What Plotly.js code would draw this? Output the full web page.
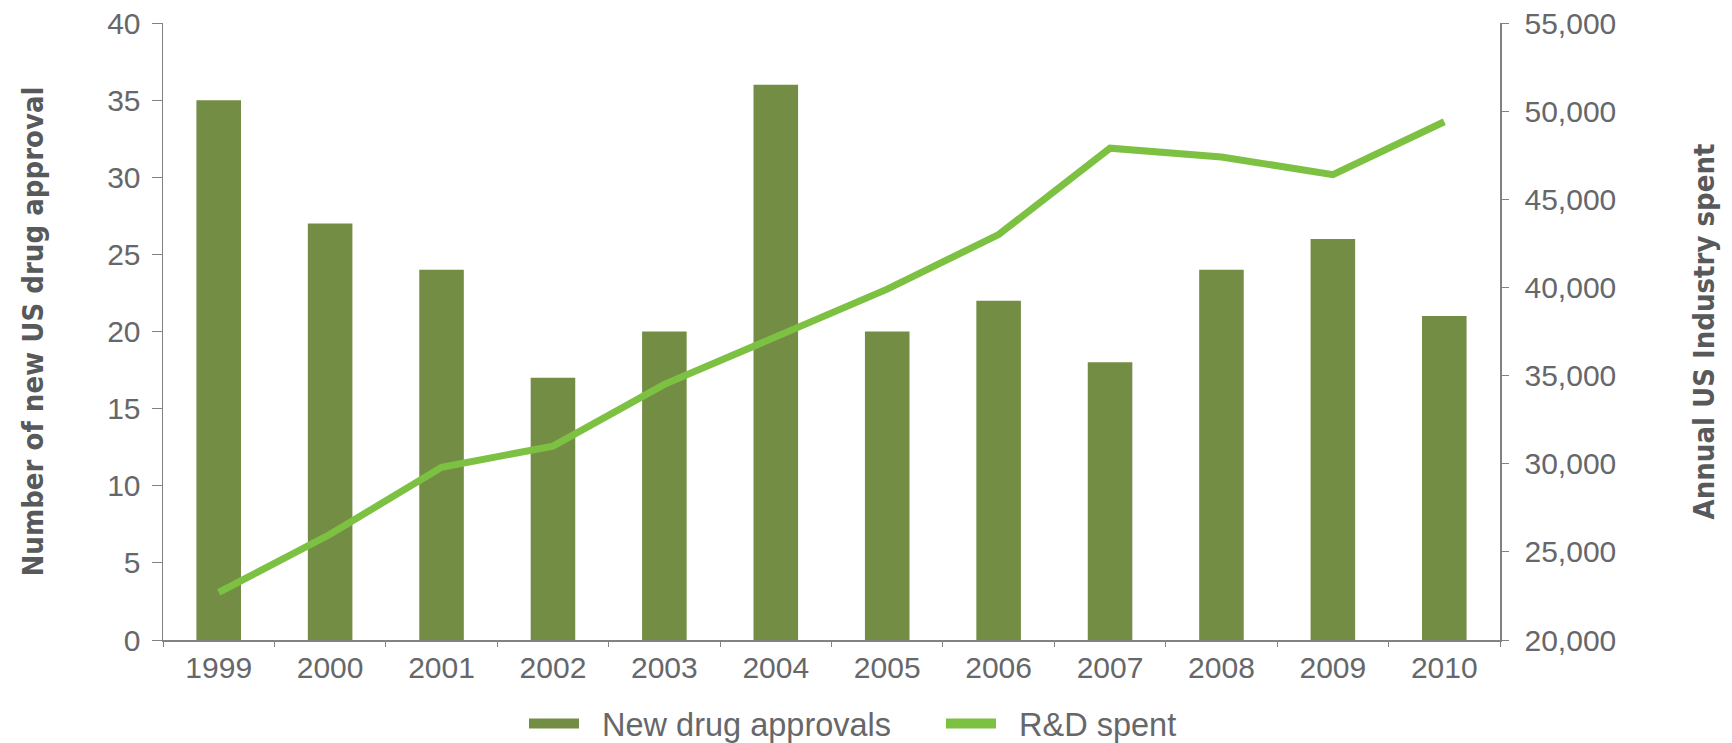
<!DOCTYPE html>
<html>
<head>
<meta charset="utf-8">
<script src="https://cdn.plot.ly/plotly-3.0.1.min.js"></script>
<style>html,body{margin:0;padding:0;background:#fff;}#chart{width:1732px;height:743px;}</style>
</head>
<body>
<div id="chart"></div>
<script>
const years = ['1999','2000','2001','2002','2003','2004','2005','2006','2007','2008','2009','2010'];
const approvals = [35, 27, 24, 17, 20, 36, 20, 22, 18, 24, 26, 21];
const rdSpent = [22700, 26000, 29800, 31000, 34500, 37200, 39900, 43000, 47900, 47400, 46400, 49400];
const leftTicks = [0, 5, 10, 15, 20, 25, 30, 35, 40];
const rightTicks = [20000, 25000, 30000, 35000, 40000, 45000, 50000, 55000];
const seriesNames = ['New drug approvals', 'R&D spent'];

const barColor = '#738d45';
const lineColor = '#7dc142';
const textColor = '#66676a';
const titleColor = '#58595b';
const axisColor = '#808285';
const tickFont = {family: 'Liberation Sans, Arial, sans-serif', size: 30, color: textColor};
const titleFont = {family: 'Liberation Sans Narrow, DejaVu Sans Condensed, sans-serif', size: 29, color: titleColor, weight: 'bold'};
const pad = '\u00a0\u00a0';

const traces = [
  {type: 'bar', x: years, y: approvals, name: seriesNames[0], marker: {color: barColor}, showlegend: false, legendgroup: 'a', yaxis: 'y'},
  {type: 'scatter', mode: 'lines', x: [years[0]], y: [null], name: pad + seriesNames[0], line: {color: barColor, width: 10}, legendgroup: 'a', yaxis: 'y', hoverinfo: 'skip'},
  {type: 'scatter', mode: 'lines', x: years, y: rdSpent, name: seriesNames[1], line: {color: lineColor, width: 7}, yaxis: 'y2', showlegend: false, legendgroup: 'b'},
  {type: 'scatter', mode: 'lines', x: [years[0]], y: [null], name: pad + seriesNames[1], line: {color: lineColor, width: 12}, yaxis: 'y2', legendgroup: 'b', hoverinfo: 'skip'}
];

const layout = {
  width: 1732, height: 743,
  margin: {l: 163, r: 232, t: 23, b: 103, autoexpand: false},
  paper_bgcolor: '#fff', plot_bgcolor: '#fff',
  bargap: 0.6,
  showlegend: true,
  legend: {orientation: 'h', x: 0.270, xanchor: 'left', y: -0.136, yanchor: 'middle', font: {family: 'Liberation Sans, Arial, sans-serif', size: 32.5, color: textColor}, itemwidth: 50, entrywidth: 352, traceorder: 'normal'},
  xaxis: {
    type: 'category', tickfont: tickFont, showline: true, linecolor: axisColor, linewidth: 1.5,
    ticks: 'outside', ticklen: 5, tickcolor: axisColor, tickson: 'boundaries', showgrid: false, zeroline: false,
    ticklabelstandoff: 0
  },
  yaxis: {
    range: [0, 40], tickvals: leftTicks, tickfont: tickFont, showline: true, linecolor: axisColor, linewidth: 1.5,
    ticks: 'outside', ticklen: 10, tickcolor: axisColor, showgrid: false, zeroline: false, ticklabelstandoff: 5,
    title: {text: 'Number of new US drug approval', font: titleFont, standoff: 55}
  },
  yaxis2: {
    range: [20000, 55000], tickvals: rightTicks, tickformat: ',', overlaying: 'y', side: 'right', tickfont: tickFont,
    showline: true, linecolor: axisColor, linewidth: 1.5, ticks: 'outside', ticklen: 7, tickcolor: axisColor,
    showgrid: false, zeroline: false, ticklabelstandoff: 10,
    title: {text: 'Annual US Industry spent', font: titleFont, standoff: 78}
  }
};

Plotly.newPlot('chart', traces, layout, {displayModeBar: false, staticPlot: true});
</script>
</body>
</html>
